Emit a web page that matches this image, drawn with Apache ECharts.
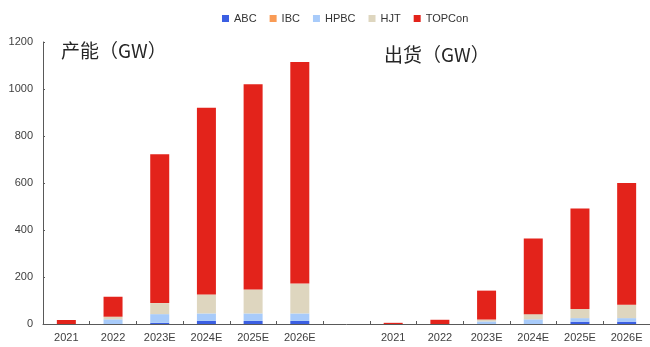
<!DOCTYPE html>
<html>
<head>
<meta charset="utf-8">
<style>
  html, body { margin: 0; padding: 0; background: #fff; }
  #chart { width: 650px; height: 347px; }
</style>
<script src="https://cdn.jsdelivr.net/npm/echarts@6/dist/echarts.min.js"></script>
</head>
<body>
<div id="chart"></div>
<script>
// Left group: capacity (GW); blank slot; right group: shipments (GW)
const years = ['2021', '2022', '2023E', '2024E', '2025E', '2026E'];
const categories = years.concat([''], years);

const abcCapacity    = [0, 0, 5, 13, 13, 13];
const ibcCapacity    = [0, 0, 0, 0, 0, 0];
const hpbcCapacity   = [0, 20, 37, 32, 32, 32];
const hjtCapacity    = [0, 11, 47, 81, 102, 127];
const topconCapacity = [17, 85, 633, 794, 873, 943];

const abcShipment    = [0, 0, 0, 0, 10, 10];
const ibcShipment    = [0, 0, 0, 0, 0, 0];
const hpbcShipment   = [0, 0, 11, 20, 15, 15];
const hjtShipment    = [0, 0, 8, 22, 39, 57];
const topconShipment = [5, 18, 123, 322, 428, 518];

const yTicks = [0, 200, 400, 600, 800, 1000, 1200];

const seriesDefs = [
  { name: 'ABC',    color: '#3b5fe3', cap: abcCapacity,    ship: abcShipment },
  { name: 'IBC',    color: '#f99b55', cap: ibcCapacity,    ship: ibcShipment },
  { name: 'HPBC',   color: '#a8cbfa', cap: hpbcCapacity,   ship: hpbcShipment },
  { name: 'HJT',    color: '#ded6bf', cap: hjtCapacity,    ship: hjtShipment },
  { name: 'TOPCon', color: '#e3231b', cap: topconCapacity, ship: topconShipment }
];

const font = '"Liberation Sans", Arial, sans-serif';
const cjkFont = '"Noto Sans CJK SC", sans-serif';

const chart = echarts.init(document.getElementById('chart'), null, { renderer: 'canvas' });

chart.setOption({
  animation: false,
  backgroundColor: '#ffffff',
  legend: {
    top: 8,
    left: 217,
    itemWidth: 7,
    itemHeight: 7,
    itemGap: 13,
    icon: 'rect',
    textStyle: { fontFamily: font, fontSize: 11, color: '#333' },
    data: seriesDefs.map(s => s.name)
  },
  grid: { left: 43, right: 0, top: 42, bottom: 23, containLabel: false },
  xAxis: {
    type: 'category',
    data: categories,
    axisLine: { lineStyle: { color: '#595959', width: 1 } },
    axisTick: { show: true, inside: true, length: 3, alignWithLabel: false, lineStyle: { color: '#595959' } },
    axisLabel: { fontFamily: font, fontSize: 11, color: '#404040', margin: 8, interval: 0 }
  },
  yAxis: {
    type: 'value',
    min: yTicks[0],
    max: yTicks[yTicks.length - 1],
    interval: yTicks[1] - yTicks[0],
    splitLine: { show: false },
    axisLine: { show: true, lineStyle: { color: '#595959', width: 1 } },
    axisTick: { show: true, inside: true, length: 2, lineStyle: { color: '#595959' } },
    axisLabel: {
      fontFamily: font, fontSize: 11, color: '#404040', margin: 10,
      formatter: v => String(v)
    }
  },
  graphic: [
    { type: 'text', left: 61, top: 41,
      style: { text: '产能（GW）', font: '19px ' + cjkFont, fill: '#262626' } },
    { type: 'text', left: 384, top: 45,
      style: { text: '出货（GW）', font: '19px ' + cjkFont, fill: '#262626' } }
  ],
  series: seriesDefs.map(s => ({
    name: s.name,
    type: 'bar',
    stack: 'total',
    barWidth: 19,
    itemStyle: { color: s.color },
    emphasis: { disabled: true },
    data: s.cap.concat([0], s.ship)
  }))
});
</script>
</body>
</html>
